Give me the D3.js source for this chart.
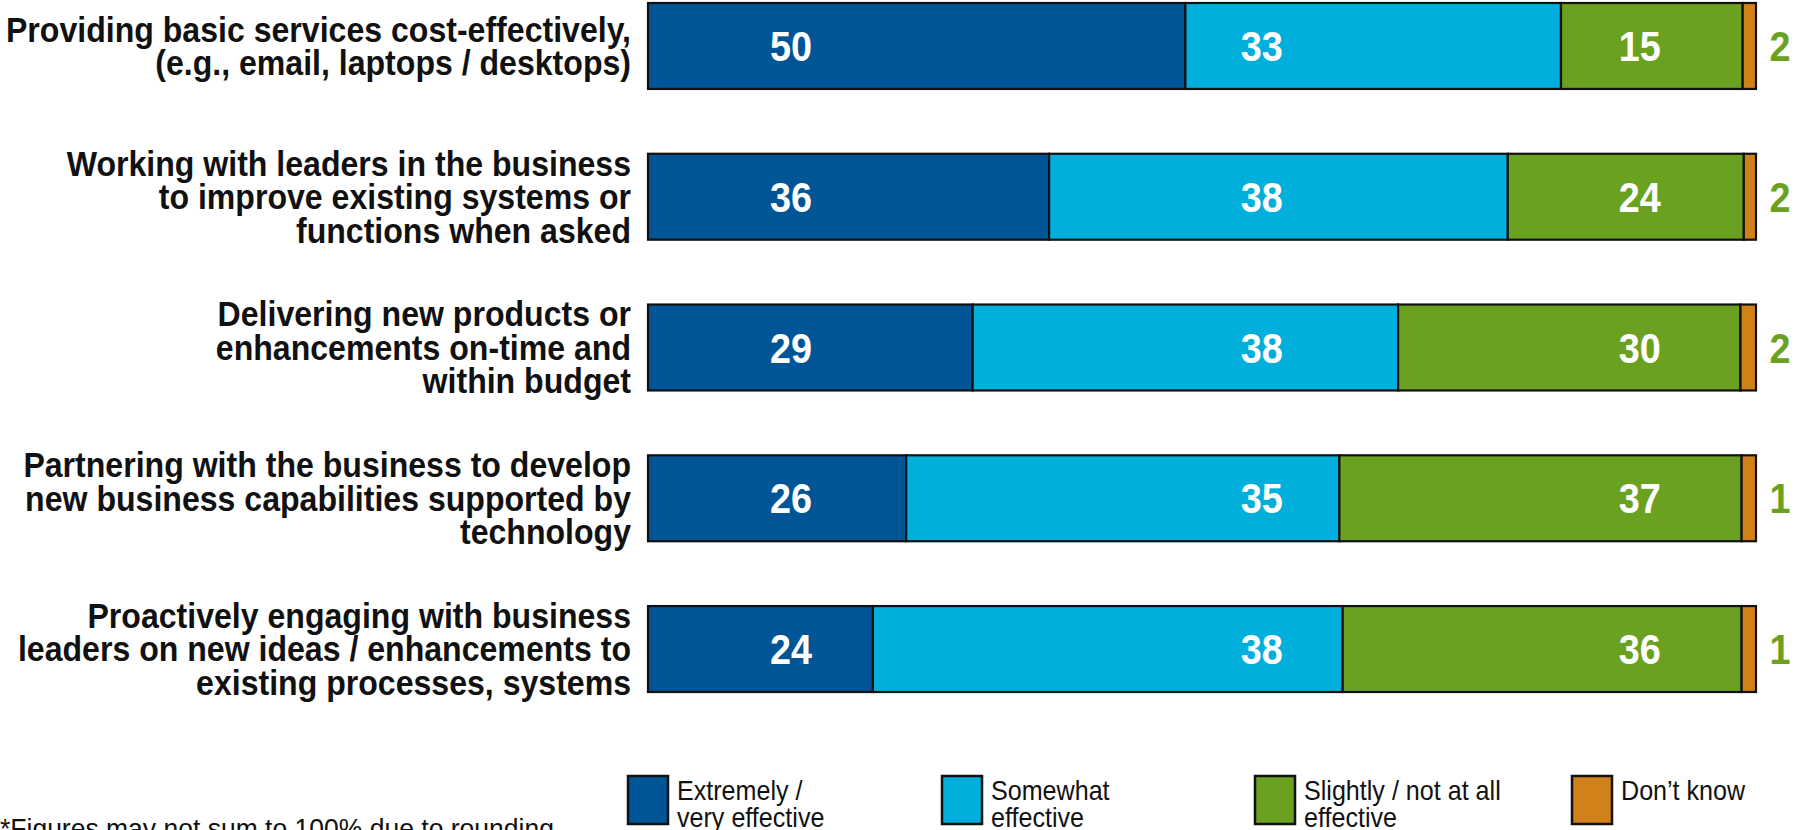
<!DOCTYPE html>
<html lang="en">
<head>
<meta charset="UTF-8">
<title>IT effectiveness</title>
<script src="https://cdnjs.cloudflare.com/ajax/libs/d3/7.8.5/d3.min.js"></script>
<style>
    html, body { margin: 0; padding: 0; background: #fff; }
    svg { display: block; font-family: "Liberation Sans", Arial, sans-serif; }
</style>
</head>
<body>
<svg id="chart" width="1806" height="830"></svg>
<script>
    // row labels, one entry per line
    const categories = [
        ['Providing basic services cost-effectively,', '(e.g., email, laptops / desktops)'],
        ['Working with leaders in the business', 'to improve existing systems or', 'functions when asked'],
        ['Delivering new products or', 'enhancements on-time and', 'within budget'],
        ['Partnering with the business to develop', 'new business capabilities supported by', 'technology'],
        ['Proactively engaging with business', 'leaders on new ideas / enhancements to', 'existing processes, systems']
    ];

    const seriesNames = ['Extremely /\nvery effective', 'Somewhat\neffective', 'Slightly / not at all\neffective', 'Don\u2019t know'];
    const seriesColors = ['#005596', '#00afdb', '#6ba121', '#d08219'];

    // printed values
    const extremely = [50, 36, 29, 26, 24];
    const somewhat = [33, 38, 38, 35, 38];
    const slightly = [15, 24, 30, 37, 36];
    const dontKnow = [2, 2, 2, 1, 1];

    // segment lengths as drawn in the picture (share of the bar)
    const extremelyBar = [48.5, 36.2, 29.3, 23.3, 20.3];
    const somewhatBar = [33.9, 41.4, 38.4, 39.1, 42.4];
    const slightlyBar = [16.4, 21.3, 30.9, 36.3, 36.0];
    const dontKnowBar = [1.2, 1.1, 1.4, 1.3, 1.3];

    // the numbers sit in fixed columns, not in segment centres
    const labelCols = [12.9, 55.4, 89.5];

    var svg = d3.select('#chart');

    var x = d3.scaleLinear().domain([0, 100]).range([648, 1756]);
    var y = d3.scaleBand().domain(d3.range(categories.length)).range([3, 692]).paddingInner(0.43);

    var printed = [extremely, somewhat, slightly, dontKnow];
    var bars = [extremelyBar, somewhatBar, slightlyBar, dontKnowBar];

    var rows = categories.map(function (c, i) {
        var total = d3.sum(bars, function (b) { return b[i]; });
        var acc = 0;
        var segs = bars.map(function (b, k) {
            var w = b[i] / total * 100;
            var s = { k: k, x0: acc, x1: acc + w };
            acc += w;
            return s;
        });
        return { i: i, lines: c, segs: segs };
    });

    var mid = function (i) { return y(i) + y.bandwidth() / 2; };

    var row = svg.selectAll('g.row')
        .data(rows)
        .enter()
        .append('g')
        .attr('class', 'row');

    row.selectAll('rect')
        .data(function (d) { return d.segs.map(function (s) { return Object.assign({ i: d.i }, s); }); })
        .enter()
        .append('rect')
        .attr('x', function (d) { return x(d.x0); })
        .attr('y', function (d) { return y(d.i); })
        .attr('width', function (d) { return x(d.x1) - x(d.x0); })
        .attr('height', y.bandwidth())
        .attr('fill', function (d) { return seriesColors[d.k]; })
        .attr('stroke', '#111')
        .attr('stroke-width', 2.2);

    // row labels (narrow look: squeeze horizontally)
    var LINE_H = 33.5;
    row.append('text')
        .attr('transform', function (d) { return 'translate(631,' + mid(d.i) + ') scale(0.93,1)'; })
        .attr('text-anchor', 'end')
        .attr('font-weight', 'bold')
        .attr('font-size', 34.5)
        .attr('fill', '#111')
        .selectAll('tspan')
        .data(function (d) {
            return d.lines.map(function (l, j) {
                return { t: l, cy: (j - (d.lines.length - 1) / 2) * LINE_H };
            });
        })
        .enter()
        .append('tspan')
        .attr('x', 0)
        .attr('y', function (d) { return d.cy; })
        .attr('dy', '0.36em')
        .text(function (d) { return d.t; });

    // values inside the bar
    row.selectAll('text.val')
        .data(function (d) {
            return labelCols.map(function (c, k) { return { i: d.i, k: k, c: c }; });
        })
        .enter()
        .append('text')
        .attr('class', 'val')
        .attr('transform', function (d) { return 'translate(' + x(d.c) + ',' + mid(d.i) + ') scale(0.9,1)'; })
        .attr('dy', '0.36em')
        .attr('text-anchor', 'middle')
        .attr('font-weight', 'bold')
        .attr('font-size', 42)
        .attr('fill', '#fff')
        .text(function (d) { return printed[d.k][d.i]; });

    // don't know value outside
    row.append('text')
        .attr('transform', function (d) { return 'translate(' + (x(100) + 24) + ',' + mid(d.i) + ') scale(0.9,1)'; })
        .attr('dy', '0.36em')
        .attr('text-anchor', 'middle')
        .attr('font-weight', 'bold')
        .attr('font-size', 42)
        .attr('fill', seriesColors[2])
        .text(function (d) { return dontKnow[d.i]; });

    // legend
    var legendX = [628, 942, 1255, 1572];
    var legend = svg.selectAll('g.legend')
        .data(seriesNames)
        .enter()
        .append('g')
        .attr('class', 'legend')
        .attr('transform', function (d, i) { return 'translate(' + legendX[i] + ',776)'; });

    legend.append('rect')
        .attr('width', 40)
        .attr('height', 48)
        .attr('fill', function (d, i) { return seriesColors[i]; })
        .attr('stroke', '#111')
        .attr('stroke-width', 2.5);

    legend.append('text')
        .attr('transform', 'translate(49,0) scale(0.93,1)')
        .attr('font-size', 27)
        .attr('fill', '#111')
        .selectAll('tspan')
        .data(function (d) { return d.split('\n'); })
        .enter()
        .append('tspan')
        .attr('x', 0)
        .attr('y', function (d, j) { return 24 + j * 27; })
        .text(function (d) { return d; });

    svg.append('text')
        .attr('transform', 'translate(0,838) scale(0.93,1)')
        .attr('font-size', 28.5)
        .attr('fill', '#111')
        .text('*Figures may not sum to 100% due to rounding');
</script>
</body>
</html>
